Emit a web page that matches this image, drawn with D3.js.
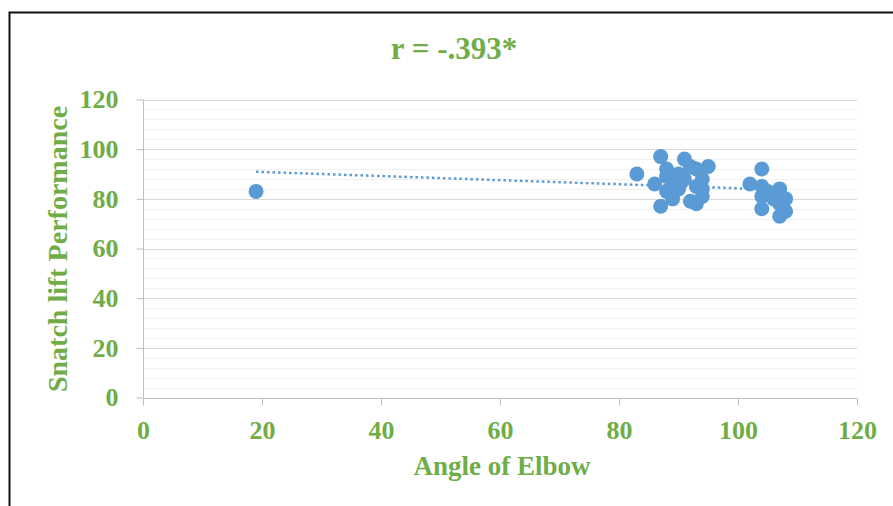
<!DOCTYPE html>
<html>
<head>
<meta charset="utf-8">
<script src="https://cdn.jsdelivr.net/npm/d3@7"></script>
<style>
  body { margin: 0; background: #fff; }
  text { font-family: "Liberation Serif", "Times New Roman", serif; font-weight: bold; }
</style>
</head>
<body>
<div id="chart"></div>
<script>
// Elbow angle vs snatch lift scatter

// Data
const elbowAngle = [19,
  83, 86, 87, 87, 88, 88, 88, 89, 89, 90, 90, 91, 91, 92, 92, 93, 93, 93, 94, 94, 94, 95,
  102, 104, 104, 104, 104, 105, 106, 107, 107, 107, 108, 108];
const snatchLift = [83,
  90, 86, 97, 77, 92, 89, 83, 80, 86, 90, 84, 96, 88, 93, 79, 92, 78, 85, 84, 81, 88, 93,
  86, 92, 85, 81, 76, 83, 80, 84, 78, 73, 80, 75];
const xTicks = [0, 20, 40, 60, 80, 100, 120];
const yTicks = [0, 20, 40, 60, 80, 100, 120];

const chartTitle = "r = -.393*";
const xTitle = "Angle of Elbow";
const yTitle = "Snatch lift Performance";

const width = 893;
const height = 506;
const green = "#70ad47";
const blue = "#5b9bd5";

const svg = d3.select("#chart")
  .append("svg")
  .attr("width", width)
  .attr("height", height);

// outer frame (only top and left edges visible in the crop)
svg.append("path")
  .attr("d", "M9.5," + height + "V12.5H" + width)
  .attr("fill", "none")
  .attr("stroke", "#111")
  .attr("stroke-width", 2);

const x = d3.scaleLinear().domain([0, 120]).range([143, 857]);
const y = d3.scaleLinear().domain([0, 120]).range([397.5, 99.5]);

// minor gridlines every 4
svg.append("g")
  .selectAll("line")
  .data(d3.range(4, 120, 4).filter(v => v % 20 !== 0))
  .join("line")
    .attr("x1", x(0)).attr("x2", x(120))
    .attr("y1", d => Math.round(y(d)) + 0.5)
    .attr("y2", d => Math.round(y(d)) + 0.5)
    .attr("stroke", "#f0f0f0");

// major gridlines
svg.append("g")
  .selectAll("line")
  .data(yTicks.slice(1))
  .join("line")
    .attr("x1", x(0)).attr("x2", x(120))
    .attr("y1", d => Math.round(y(d)) + 0.5)
    .attr("y2", d => Math.round(y(d)) + 0.5)
    .attr("stroke", "#d9d9d9");

// axes
const xAxis = svg.append("g")
  .attr("transform", "translate(0," + (Math.round(y(0)) + 0.5) + ")")
  .call(d3.axisBottom(x).tickValues(xTicks).tickSize(7).tickPadding(15).tickFormat(d3.format("d")));

const yAxis = svg.append("g")
  .attr("transform", "translate(" + (Math.round(x(0)) + 0.5) + ",0)")
  .call(d3.axisLeft(y).tickValues(yTicks).tickSize(7).tickPadding(18).tickFormat(d3.format("d")));

[xAxis, yAxis].forEach(a => {
  a.select(".domain").attr("stroke", "#bfbfbf");
  a.selectAll(".tick line").attr("stroke", "#bfbfbf");
  a.selectAll(".tick text")
    .attr("fill", green)
    .style("font-size", "26px")
    .style("font-family", "Liberation Serif, serif")
    .style("font-weight", "bold");
});
yAxis.select(".domain").attr("d", "M0," + y(120) + "V" + y(0));
xAxis.select(".domain").attr("d", "M" + x(0) + ",0H" + x(120));

// linear trendline from the points
const n = elbowAngle.length;
const mx = d3.mean(elbowAngle);
const my = d3.mean(snatchLift);
let sxy = 0, sxx = 0;
for (let i = 0; i < n; i++) {
  sxy += (elbowAngle[i] - mx) * (snatchLift[i] - my);
  sxx += (elbowAngle[i] - mx) ** 2;
}
const slope = sxy / sxx;
const intercept = my - slope * mx;
const ext = d3.extent(elbowAngle);

svg.append("line")
  .attr("x1", x(ext[0])).attr("y1", y(intercept + slope * ext[0]))
  .attr("x2", x(ext[1])).attr("y2", y(intercept + slope * ext[1]))
  .attr("stroke", blue)
  .attr("stroke-width", 2.5)
  .attr("stroke-dasharray", "2.5,3");

// points
svg.append("g")
  .selectAll("circle")
  .data(elbowAngle.map((d, i) => [d, snatchLift[i]]))
  .join("circle")
    .attr("cx", d => x(d[0]))
    .attr("cy", d => y(d[1]))
    .attr("r", 7.5)
    .attr("fill", blue);

// titles
svg.append("text")
  .attr("x", 454).attr("y", 59)
  .attr("text-anchor", "middle")
  .attr("fill", green)
  .style("font-size", "31px")
  .text(chartTitle);

svg.append("text")
  .attr("x", 502).attr("y", 475)
  .attr("text-anchor", "middle")
  .attr("fill", green)
  .style("font-size", "27px")
  .text(xTitle);

svg.append("text")
  .attr("transform", "translate(67,249) rotate(-90)")
  .attr("text-anchor", "middle")
  .attr("fill", green)
  .style("font-size", "28px")
  .text(yTitle);
</script>
</body>
</html>
